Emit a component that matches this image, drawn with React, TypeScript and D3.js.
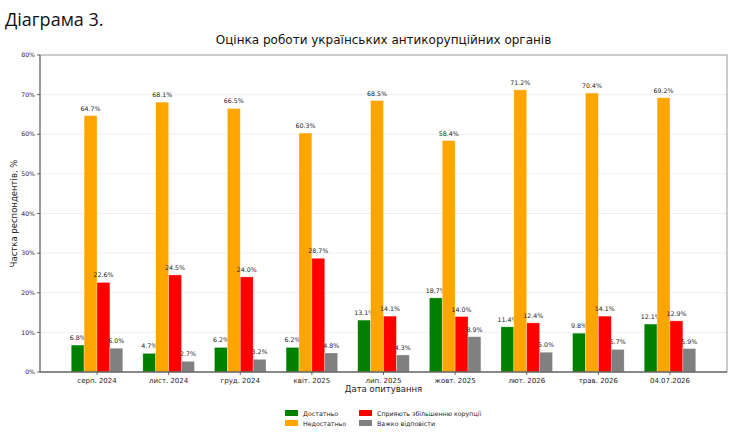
import * as d3 from 'd3';

const categories = ['серп. 2024', 'лист. 2024', 'груд. 2024', 'квіт. 2025', 'лип. 2025', 'жовт. 2025', 'лют. 2026', 'трав. 2026', '04.07.2026'];
const enough = [6.8, 4.7, 6.2, 6.2, 13.1, 18.7, 11.4, 9.8, 12.1];
const notEnough = [64.7, 68.1, 66.5, 60.3, 68.5, 58.4, 71.2, 70.4, 69.2];
const corruption = [22.6, 24.5, 24.0, 28.7, 14.1, 14.0, 12.4, 14.1, 12.9];
const hardToSay = [6.0, 2.7, 3.2, 4.8, 4.3, 8.9, 5.0, 5.7, 5.9];
const seriesNames = ['Достатньо', 'Недостатньо', 'Сприяють збільшенню корупції', 'Важко відповісти'];
const colours = ['#008000', '#ffa500', '#ff0000', '#808080'];
const yTicks = [0, 10, 20, 30, 40, 50, 60, 70, 80];

const W = 740;
const H = 437;
const plot = { left: 40, right: 727, top: 55, bottom: 372 };
const barW = 0.18;
const font = '"DejaVu Sans", sans-serif';

export default function App() {
  const series = [enough, notEnough, corruption, hardToSay];

  const x = d3.scaleLinear()
    .domain([-0.36 - 0.436, 8.36 + 0.436])
    .range([plot.left, plot.right]);
  const y = d3.scaleLinear().domain([0, 80]).range([plot.bottom, plot.top]);
  const px = (v: number) => x(v) - x(0);

  // legend is two columns, filled down first
  const legendPos = [
    { x: 285, y: 413 },
    { x: 285, y: 423 },
    { x: 359, y: 413 },
    { x: 359, y: 423 },
  ];

  return (
    <svg width={W} height={H} style={{ position: 'absolute', left: 0, top: 0, background: '#fff' }}>
      <text x={5} y={26} fontFamily='"Open Sans", sans-serif' fontSize={18} fill="#111">Діаграма 3.</text>
      <text x={(plot.left + plot.right) / 2} y={44} textAnchor="middle" fontFamily={font} fontSize={12} fill="#111">
        Оцінка роботи українських антикорупційних органів
      </text>

      {yTicks.slice(1, -1).map(t => (
        <line key={t} x1={plot.left} x2={plot.right} y1={y(t)} y2={y(t)} stroke="#ebebeb" strokeWidth={0.8} />
      ))}

      {series.map((vals, s) => (
        <g key={s}>
          {vals.map((v, i) => {
            const cx = i + (s - 1.5) * barW;
            return (
              <g key={i}>
                <rect
                  x={x(cx - barW / 2)}
                  y={y(v)}
                  width={px(barW)}
                  height={y(0) - y(v)}
                  fill={colours[s]}
                  stroke="#fff"
                  strokeOpacity={0.5}
                  strokeWidth={0.6}
                />
                <text x={x(cx)} y={y(v) - 5} textAnchor="middle" fontFamily={font} fontSize={6.3} fill="#222">
                  {v.toFixed(1)}%
                </text>
              </g>
            );
          })}
        </g>
      ))}

      <rect x={plot.left} y={plot.top} width={plot.right - plot.left} height={plot.bottom - plot.top} fill="none" stroke="#9a9a9a" strokeWidth={1} />
      <line x1={plot.left} x2={plot.right} y1={plot.bottom} y2={plot.bottom} stroke="#444" strokeWidth={1} />
      <line x1={plot.left} x2={plot.left} y1={plot.top} y2={plot.bottom} stroke="#666" strokeWidth={1} />

      {yTicks.map(t => (
        <g key={t}>
          <line x1={plot.left - 3} x2={plot.left} y1={y(t)} y2={y(t)} stroke="#444" strokeWidth={0.8} />
          <text x={plot.left - 5} y={y(t) + 2.2} textAnchor="end" fontFamily={font} fontSize={6.2} fill="#222">{t}%</text>
        </g>
      ))}

      {categories.map((c, i) => (
        <g key={c}>
          <line x1={x(i)} x2={x(i)} y1={plot.bottom} y2={plot.bottom + 3} stroke="#444" strokeWidth={0.8} />
          <text x={x(i)} y={plot.bottom + 11} textAnchor="middle" fontFamily={font} fontSize={7} fill="#222">{c}</text>
        </g>
      ))}

      <text x={(plot.left + plot.right) / 2} y={392} textAnchor="middle" fontFamily={font} fontSize={8.5} fill="#222">Дата опитування</text>
      <text
        transform={`translate(17,${(plot.top + plot.bottom) / 2}) rotate(-90)`}
        textAnchor="middle"
        fontFamily={font}
        fontSize={8.5}
        fill="#222"
      >
        Частка респондентів, %
      </text>

      {seriesNames.map((n, s) => (
        <g key={n}>
          <rect x={legendPos[s].x} y={legendPos[s].y - 3} width={13} height={6} fill={colours[s]} />
          <text x={legendPos[s].x + 18} y={legendPos[s].y + 2.5} fontFamily={font} fontSize={6.3} fill="#222">{n}</text>
        </g>
      ))}
    </svg>
  );
}
